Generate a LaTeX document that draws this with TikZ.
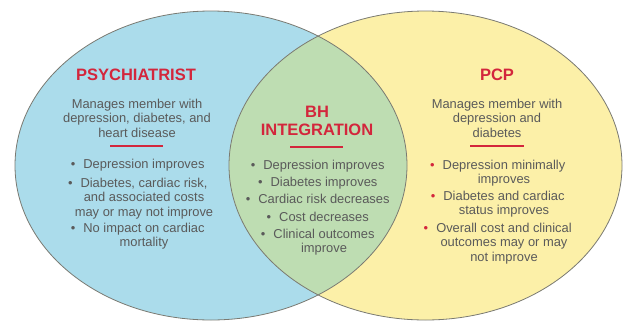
\documentclass[tikz,border=0pt]{standalone}
\usepackage{fontspec}
\setmainfont{Liberation Sans}
\begin{document}
\definecolor{psyblue}{HTML}{ABDCEB}
\definecolor{pcpyellow}{HTML}{FCF0A8}
\definecolor{bhgreen}{HTML}{BEDDB2}
\definecolor{rimgray}{HTML}{7A7A72}
\definecolor{bodygray}{HTML}{5A5A5A}
\definecolor{headred}{HTML}{D3263C}
\begin{tikzpicture}[x=1pt,y=-1pt,
  heading/.style={text=headred,font=\fontsize{16.5}{18}\selectfont\bfseries,align=center,inner sep=0pt},
  body/.style={text=bodygray,font=\fontsize{12.9}{14.5}\selectfont,align=center,inner sep=0pt,anchor=north},
  rule/.style={draw=headred,line width=1.3pt},
  rim/.style={draw=rimgray,line width=0.8pt}]
\useasboundingbox[fill=white] (0,0) rectangle (629,322);
% circles
\coordinate (cl) at (211,165.5);
\coordinate (cr) at (425.5,165.5);
\fill[psyblue] (cl) ellipse [x radius=196pt, y radius=154.5pt];
\fill[pcpyellow] (cr) ellipse [x radius=196.5pt, y radius=154.5pt];
\begin{scope}
  \clip (cl) ellipse [x radius=196pt, y radius=154.5pt];
  \fill[bhgreen] (cr) ellipse [x radius=196.5pt, y radius=154.5pt];
\end{scope}
\draw[rim] (cl) ellipse [x radius=196pt, y radius=154.5pt];
\draw[rim] (cr) ellipse [x radius=196.5pt, y radius=154.5pt];

% Psychiatrist
\node[heading] (psyh) at (136,75) {PSYCHIATRIST};
\node[body] (psyd) at (137,98.5) {Manages member with\\depression, diabetes, and\\heart disease};
\draw[rule] (110,146) coordinate (psyra) -- (163,146) coordinate (psyrb);
\node[body] (psy1) at (144,158.5) {\llap{\textbullet\hspace{8pt}}Depression improves};
\node[body] (psy2) at (144,177.5) {\llap{\textbullet\hspace{8pt}}Diabetes, cardiac risk,\\and associated costs\\may or may not improve};
\node[body] (psy3) at (144,222.5) {\llap{\textbullet\hspace{8pt}}No impact on cardiac\\mortality};

% BH integration
\node[heading] (bhh) at (317,120.5) {BH\\INTEGRATION};
\draw[rule] (290,147) coordinate (bhra) -- (343,147) coordinate (bhrb);
\node[body] (bh1) at (324,159.5) {\llap{\textbullet\hspace{8pt}}Depression improves};
\node[body] (bh2) at (324,176.5) {\llap{\textbullet\hspace{8pt}}Diabetes improves};
\node[body] (bh3) at (324,193.5) {\llap{\textbullet\hspace{8pt}}Cardiac risk decreases};
\node[body] (bh4) at (324,211.5) {\llap{\textbullet\hspace{8pt}}Cost decreases};
\node[body] (bh5) at (324,228.5) {\llap{\textbullet\hspace{8pt}}Clinical outcomes\\improve};

% PCP
\node[heading] (pcph) at (497,75) {PCP};
\node[body] (pcpd) at (497,98.5) {Manages member with\\depression and\\diabetes};
\draw[rule] (470,146) coordinate (pcpra) -- (524,146) coordinate (pcprb);
\node[body] (pcp1) at (504,159.5) {\llap{\textcolor{headred}{\textbullet}\hspace{8pt}}Depression minimally\\improves};
\node[body] (pcp2) at (504,190.5) {\llap{\textcolor{headred}{\textbullet}\hspace{8pt}}Diabetes and cardiac\\status improves};
\node[body] (pcp3) at (504,222.5) {\llap{\textcolor{headred}{\textbullet}\hspace{8pt}}Overall cost and clinical\\outcomes may or may\\not improve};
\end{tikzpicture}
\end{document}
